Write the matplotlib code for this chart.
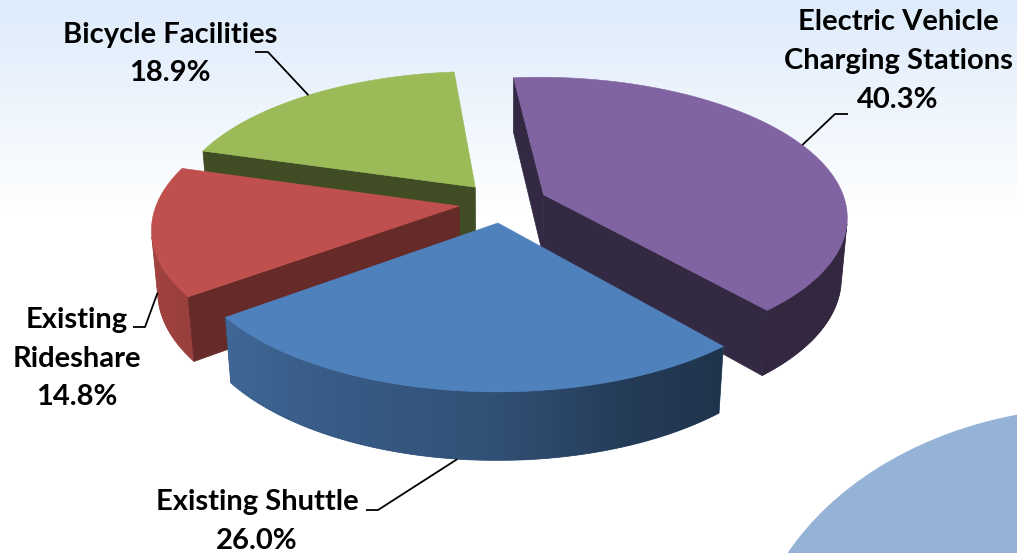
import numpy as np
import matplotlib
matplotlib.use("Agg")
import matplotlib.pyplot as plt
from matplotlib.patches import Polygon, Ellipse
from matplotlib.colors import to_rgb

# ---- data -------------------------------------------------------------
categories = ["Electric Vehicle\nCharging Stations", "Existing Shuttle",
              "Existing\nRideshare", "Bicycle Facilities"]
shares = [40.3, 26.0, 14.8, 18.9]
colors = ["#8064A2", "#4F81BD", "#C0504D", "#9BBB59"]

# ---- 3-D view settings --------------------------------------------------
W, H = 1017, 553
START_DEG = -5.45         # first slice edge, clockwise from 12 o'clock
ELEV = np.radians(27.0)   # camera elevation
DIST = 6.0                # camera distance (in pie radii)
FOCAL = 1812.0            # pixels per unit at unit depth
THICK = 0.228             # pie thickness (in radii)
EXPLODE = 0.147           # slice offset (in radii)
ORIGIN = (503.0, 202.5)   # screen position of the pie centre

CAM = np.array([0.0, -DIST * np.cos(ELEV), DIST * np.sin(ELEV)])


def project(X, Y, Z):
    X, Y, Z = (np.asarray(v, float) for v in (X, Y, Z))
    w = DIST + Y * np.cos(ELEV) - Z * np.sin(ELEV)
    sx = FOCAL * X / w
    sy = FOCAL * (Y * np.sin(ELEV) + Z * np.cos(ELEV)) / w
    return ORIGIN[0] + sx, ORIGIN[1] - sy


def depth(X, Y, Z):
    return DIST + Y * np.cos(ELEV) - Z * np.sin(ELEV)


def shade(color, k):
    return np.clip(np.array(to_rgb(color)) * k, 0, 1)


# brightness of the curved rim as a function of angle
RIM_DEG = [0, 90, 140, 160, 180, 230, 260, 290, 360]
RIM_K = [0.40, 0.40, 0.40, 0.47, 0.62, 0.79, 0.86, 0.86, 0.40]


def rim_factor(theta_deg):
    return np.interp(np.asarray(theta_deg) % 360, RIM_DEG, RIM_K)


def radial_factor(nx):
    return 0.41 + 0.2 * max(0.0, nx)


def visible(normal, point):
    return np.dot(normal, CAM - np.asarray(point)) > 0


fig = plt.figure(figsize=(W / 100, H / 100), dpi=100)
ax = fig.add_axes([0, 0, 1, 1])
ax.set_xlim(0, W)
ax.set_ylim(H, 0)
ax.axis("off")

# background: pale blue wash fading to white
grad = np.ones((H, 1, 3))
top_col = np.array([221, 235, 251]) / 255.0
fade = np.clip(np.arange(H) / 215.0, 0, 1)[:, None]
grad[:, 0, :] = top_col * (1 - fade) + 1.0 * fade
ax.imshow(grad, extent=(0, W, H, 0), aspect="auto", zorder=0,
          interpolation="bilinear")

# decorative disc in the lower right corner
ax.add_patch(Ellipse((1100, 680), 2 * 353, 2 * 273, facecolor="#95B3D7",
                     edgecolor="none", zorder=1))

# ---- slices -------------------------------------------------------------
fractions = np.array(shares) / np.sum(shares)
edges = START_DEG + 360.0 * np.concatenate([[0], np.cumsum(fractions)])

slices = []
for i, col in enumerate(colors):
    t1, t2 = edges[i], edges[i + 1]
    mid = np.radians((t1 + t2) / 2)
    cx, cy = EXPLODE * np.sin(mid), EXPLODE * np.cos(mid)
    cen_depth = depth(cx + 0.4 * np.sin(mid), cy + 0.4 * np.cos(mid), 0)
    slices.append((cen_depth, i, t1, t2, mid, cx, cy, col))

slices.sort(key=lambda s: -s[0])

z = 10
anchors = {}
for _, i, t1, t2, mid, cx, cy, col in slices:
    n = max(int((t2 - t1) / 0.5), 6)
    th = np.radians(np.linspace(t1, t2, n))

    # curved outer wall: visible stretch, filled with a left-to-right shade
    tm = 0.5 * (th[:-1] + th[1:])
    vis = np.array([visible([np.sin(t), np.cos(t), 0.0],
                            [cx + np.sin(t), cy + np.cos(t), -THICK / 2])
                    for t in tm])
    idx = np.where(vis)[0]
    if idx.size:
        tt = th[idx[0]: idx[-1] + 2]
        xt, yt = project(cx + np.sin(tt), cy + np.cos(tt), np.zeros_like(tt))
        xb, yb = project(cx + np.sin(tt), cy + np.cos(tt),
                         np.full_like(tt, -THICK))
        poly = np.column_stack([np.concatenate([xt, xb[::-1]]),
                                np.concatenate([yt, yb[::-1]])])
        base = shade(col, rim_factor(np.degrees(tt.mean())))
        wall = Polygon(poly, closed=True, facecolor=base, edgecolor=base,
                       lw=0.5, zorder=z)
        ax.add_patch(wall)
        x0, x1 = poly[:, 0].min(), poly[:, 0].max()
        y0, y1 = poly[:, 1].min(), poly[:, 1].max()
        xs = np.linspace(x0, x1, 300)
        order = np.argsort(xt)
        ang = np.interp(xs, xt[order], np.degrees(tt)[order])
        strip = np.array([shade(col, rim_factor(a)) for a in ang])[None, :, :]
        im = ax.imshow(strip, extent=(x0, x1, y1, y0), aspect="auto",
                       interpolation="bilinear", zorder=z + 0.5)
        im.set_clip_path(wall)

    # flat radial walls
    for t, nrm in ((np.radians(t1), np.array([-np.cos(np.radians(t1)),
                                              np.sin(np.radians(t1)), 0.0])),
                   (np.radians(t2), np.array([np.cos(np.radians(t2)),
                                              -np.sin(np.radians(t2)), 0.0]))):
        pt = [cx + 0.5 * np.sin(t), cy + 0.5 * np.cos(t), -THICK / 2]
        if visible(nrm, pt):
            xs_ = [cx, cx + np.sin(t), cx + np.sin(t), cx]
            ys_ = [cy, cy + np.cos(t), cy + np.cos(t), cy]
            zs_ = [0, 0, -THICK, -THICK]
            px, py = project(xs_, ys_, zs_)
            c = shade(col, radial_factor(nrm[0]))
            ax.add_patch(Polygon(np.column_stack([px, py]), closed=True,
                                 facecolor=c, edgecolor=c, lw=0.5,
                                 zorder=z + 1))

    # top face
    px, py = project(np.concatenate([[cx], cx + np.sin(th)]),
                     np.concatenate([[cy], cy + np.cos(th)]),
                     np.zeros(n + 1))
    ax.add_patch(Polygon(np.column_stack([px, py]), closed=True,
                         facecolor=col, edgecolor=col, lw=0.4, zorder=z + 2))

    # label anchor on the outer rim at the middle angle
    zz = -THICK if np.cos(mid) < 0 else 0.0
    anchors[i] = project(cx + np.sin(mid), cy + np.cos(mid), zz)
    z += 5

# ---- data labels ------------------------------------------------------
# (block centre x, first baseline y, leader elbow, leader label end)
label_layout = {
    0: (898, 30.5, (835, 114), (848, 114)),
    1: (257, 510.0, (378, 510), (366, 510)),
    2: (77, 328.0, (145, 327), (133, 327)),
    3: (170, 42.5, (268, 52), (255, 52)),
}
PITCH = 38.7
FONT = dict(family=["Lato", "DejaVu Sans"], fontweight="bold", fontsize=21,
            color="black")

for i, (lab, val) in enumerate(zip(categories, shares)):
    bx, by, elbow, lend = label_layout[i]
    lines = lab.split("\n") + [f"{val:.1f}%"]
    for j, line in enumerate(lines):
        ax.text(bx, by + j * PITCH, line, ha="center", va="baseline",
                zorder=100, **FONT)
    axx, ayy = anchors[i]
    ax.plot([lend[0], elbow[0], float(axx)], [lend[1], elbow[1], float(ayy)],
            color="black", lw=1.3, zorder=99, solid_capstyle="butt")

fig.savefig("out.png", dpi=100)
